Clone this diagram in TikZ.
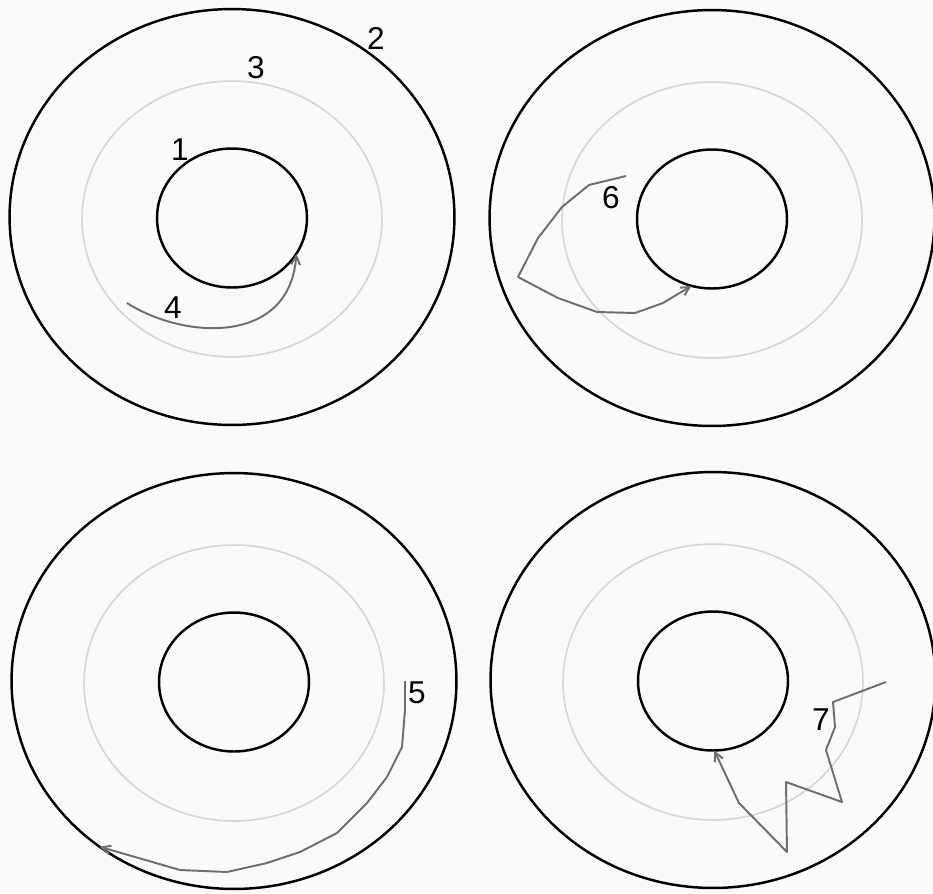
\documentclass[tikz,border=0pt]{standalone}
\usepackage{fontspec}
\setmainfont{Liberation Sans}
\usetikzlibrary{arrows.meta,shapes.geometric}
\definecolor{RingBg}{HTML}{FAFAFA}
\definecolor{RingMid}{HTML}{D6D6D6}
\definecolor{RingPath}{HTML}{6E6E6E}

\begin{document}
\begin{tikzpicture}[x=0.02cm,y=-0.02cm,
  outerring/.style={ellipse,draw=black,line width=1.4pt,minimum width=8.9cm,minimum height=8.32cm,inner sep=0pt,outer sep=0pt},
  midring/.style={ellipse,draw=RingMid,line width=0.9pt,minimum width=6cm,minimum height=5.52cm,inner sep=0pt,outer sep=0pt},
  innerring/.style={ellipse,draw=black,line width=1.4pt,minimum width=3cm,minimum height=2.78cm,inner sep=0pt,outer sep=0pt},
  track/.style={draw=RingPath,line width=1.1pt,line join=round,-{Straight Barb[length=5pt,width=5pt]}},
  num/.style={inner sep=0pt,font=\fontsize{18pt}{20pt}\selectfont},
]
\fill[RingBg] (0,0) rectangle (933,893);
\useasboundingbox (0,0) rectangle (933,893);

% four panels
\foreach \n/\x/\y in {1/232/217,2/712/218,3/234/681,4/713/680}{
  \node[outerring] (out\n) at (\x,\y) {};
  \node[midring] (mid\n) at (\x,\y+2) {};
  \node[innerring] (in\n) at (\x,\y+1) {};
}

% labels
\node[num] (l1) at (180,150) {1};
\node[num] (l2) at (376,38) {2};
\node[num] (l3) at (256,68) {3};
\node[num] (l4) at (173,308) {4};
\node[num] (l5) at (417,693) {5};
\node[num] (l6) at (611,198) {6};
\node[num] (l7) at (821,720) {7};

% paths
\coordinate (s4) at (127,303);
\coordinate (s5) at (405,681);
\coordinate (s6) at (626,176);
\coordinate (s7) at (886,682);
\draw[track] (s4) .. controls (185,340) and (290,345) .. (in1.-29);
\draw[track] (s5) -- (405,710) -- (402,747) -- (387,777) -- (367,803) -- (337,833) -- (300,852) -- (267,863) -- (227,872) -- (180,870) -- (out3.-129);
\draw[track] (s6) -- (589,185) -- (562,207) -- (538,238) -- (518,277) -- (558,298) -- (597,312) -- (635,313) -- (663,303) -- (in2.-107);
\draw[track] (s7) -- (833,702) -- (835,727) -- (826,750) -- (842,802) -- (786,782) -- (787,852) -- (739,803) -- (in4.-89);
\end{tikzpicture}
\end{document}
